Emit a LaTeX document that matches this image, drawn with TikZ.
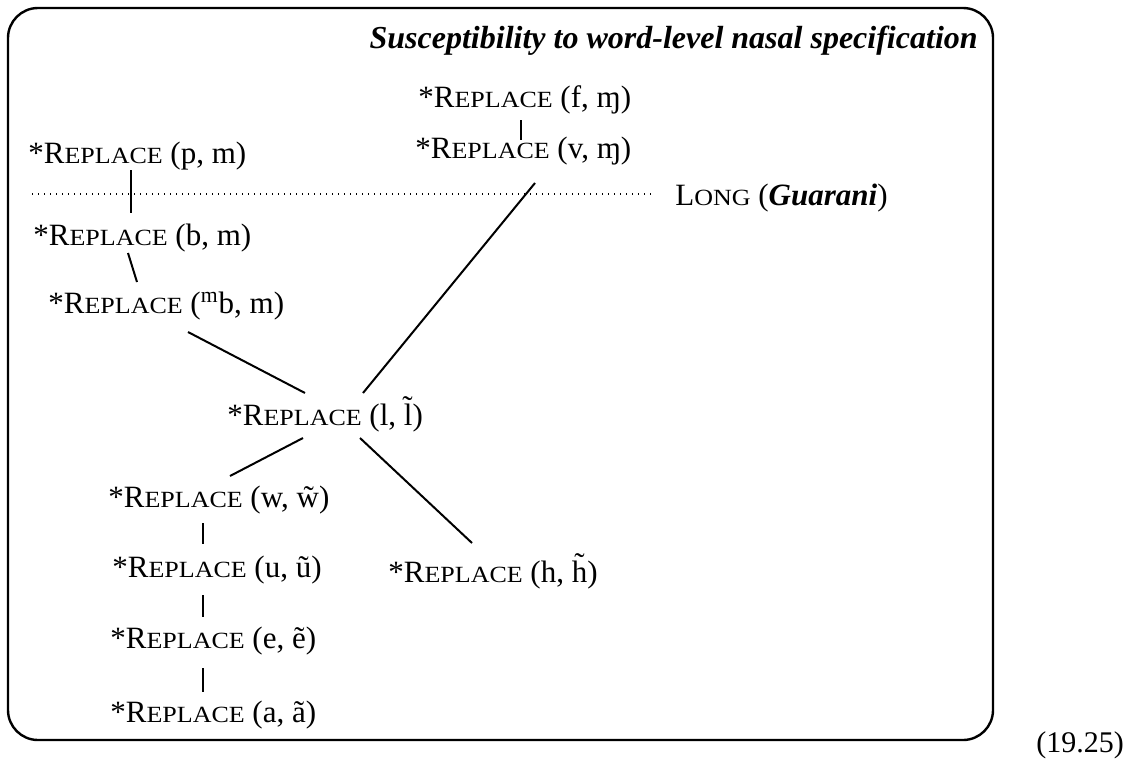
\documentclass[tikz,border=0pt]{standalone}
\usepackage{fontspec}
\setmainfont{Liberation Serif}
\newcommand\Rep{R\scalebox{1.12}[1]{\fontsize{11.6}{14}\selectfont EPLACE}}
\newcommand\Lng{L\scalebox{1.12}[1]{\fontsize{11.6}{14}\selectfont ONG}}
\begin{document}
\begin{tikzpicture}[x=0.5pt,y=-0.5pt,
  lbl/.style={anchor=base west,inner sep=0pt,font=\fontsize{15.5}{19}\selectfont},
  conn/.style={line width=1pt},
  frame/.style={line width=1.2pt,rounded corners=15pt}]
\useasboundingbox (0,0) rectangle (1133,760);
\draw[frame] (8,8) rectangle (993,740);
\node[anchor=base east,inner sep=0pt,font=\fontsize{16}{19}\selectfont\bfseries\itshape] (title) at (978,48) {Susceptibility to word-level nasal specification};
\node[lbl] (f) at (418,107) {*\Rep{} (f, ɱ)};
\node[lbl] (v) at (415,158) {*\Rep{} (v, ɱ)};
\node[lbl] (p) at (28,163) {*\Rep{} (p, m)};
\node[lbl] (b) at (33,245) {*\Rep{} (b, m)};
\node[lbl] (mb) at (48,313) {*\Rep{} (\textsuperscript{m}b, m)};
\node[lbl] (l) at (227,425) {*\Rep{} (l, \~{l})};
\node[lbl] (w) at (108,507) {*\Rep{} (w, \~{w})};
\node[lbl] (u) at (112,577) {*\Rep{} (u, ũ)};
\node[lbl] (e) at (110,648) {*\Rep{} (e, ẽ)};
\node[lbl] (a) at (110,722) {*\Rep{} (a, ã)};
\node[lbl] (h) at (388,582) {*\Rep{} (h, \~{h})};
\node[lbl] (long) at (675,205) {\Lng{} (\textbf{\textit{Guarani}})};
\node[lbl,font=\fontsize{15}{18}\selectfont] (num) at (1036,752) {(19.25)};
\coordinate (dotstart) at (32,194);
\draw[line width=1pt,dash pattern=on 0.6pt off 2.4pt] (dotstart) -- ([xshift=-11pt]dotstart -| long.west) coordinate (dotend);
\draw[conn] ([shift={(103,13)}]f.base west) -- ([shift={(106,-18)}]v.base west);
\draw[conn] ([shift={(103,7)}]p.base west) -- ([shift={(98,-32)}]b.base west);
\draw[conn] ([shift={(95,8)}]b.base west) -- ([shift={(89,-31)}]mb.base west);
\draw[conn] ([shift={(140,19)}]mb.base west) -- ([shift={(78,-32)}]l.base west);
\draw[conn] ([shift={(120,25)}]v.base west) -- ([shift={(136,-32)}]l.base west);
\draw[conn] ([shift={(76,13)}]l.base west) -- ([shift={(122,-31)}]w.base west);
\draw[conn] ([shift={(133,13)}]l.base west) -- ([shift={(84,-39)}]h.base west);
\draw[conn] ([shift={(95,16)}]w.base west) -- ([shift={(91,-33)}]u.base west);
\draw[conn] ([shift={(91,18)}]u.base west) -- ([shift={(93,-31)}]e.base west);
\draw[conn] ([shift={(93,20)}]e.base west) -- ([shift={(93,-30)}]a.base west);
\end{tikzpicture}
\end{document}
